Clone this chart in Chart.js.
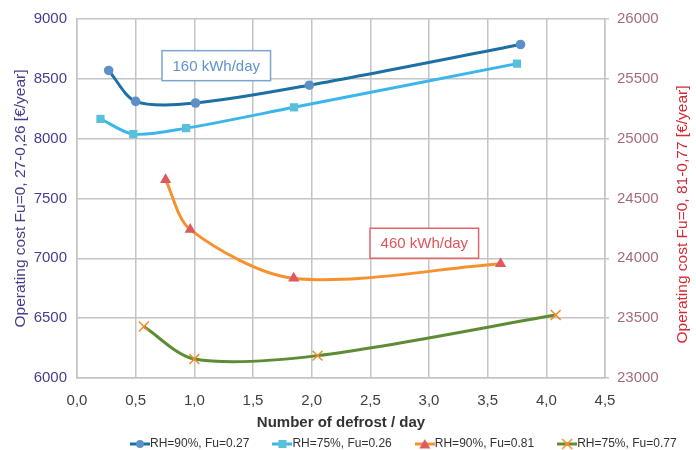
<!DOCTYPE html>
<html>
<head>
<meta charset="utf-8">
<script src="https://cdn.jsdelivr.net/npm/chart.js@4.4.1/dist/chart.umd.min.js"></script>
<style>
html, body { margin: 0; padding: 0; background: #fff; }
</style>
</head>
<body>
<canvas id="CostCanvas" width="696" height="450"></canvas>
<script>
// 160 kWh/day cases (left axis)
const rh90LowX = [0.27, 0.50, 1.01, 1.98, 3.78];
const rh90LowY = [8570, 8312, 8298, 8447, 8787];
const rh75LowX = [0.20, 0.48, 0.93, 1.85, 3.75];
const rh75LowY = [8165, 8038, 8088, 8262, 8627];

// 460 kWh/day cases (right axis)
const rh90HighX = [0.755, 0.965, 1.847, 3.61];
const rh90HighY = [24657, 24240, 23833, 23955];
const rh75HighX = [0.57, 1.00, 2.05, 4.08];
const rh75HighY = [23430, 23158, 23187, 23527];

const seriesNames = ["RH=90%, Fu=0.27", "RH=75%, Fu=0.26", "RH=90%, Fu=0.81", "RH=75%, Fu=0.77"];
const xTicks = [0, 0.5, 1, 1.5, 2, 2.5, 3, 3.5, 4, 4.5];
const leftTicks = [6000, 6500, 7000, 7500, 8000, 8500, 9000];
const rightTicks = [23000, 23500, 24000, 24500, 25000, 25500, 26000];

const labelNotes = [
    { text: "160 kWh/day", x: 1.187, y: 8610, axis: "yLeft", color: "#5f93cc", border: "#7ba3d4" },
    { text: "460 kWh/day", x: 2.96, y: 24126, axis: "yRight", color: "#e0545c", border: "#e0646c" }
];

const FONT = "'Liberation Sans', Arial, sans-serif";
const GRID = "#c4c4c4";

function toPoints(xs, ys) {
    return xs.map((x, i) => ({ x: x, y: ys[i] }));
}

// small line+marker picture for the legend
function legendIcon(lineColor, marker, markerColor) {
    const c = document.createElement("canvas");
    c.width = 20;
    c.height = 12;
    const g = c.getContext("2d");
    g.strokeStyle = lineColor;
    g.lineWidth = 3;
    g.beginPath();
    g.moveTo(0, 6);
    g.lineTo(20, 6);
    g.stroke();
    g.fillStyle = markerColor;
    g.strokeStyle = markerColor;
    g.beginPath();
    if (marker === "circle") {
        g.arc(10, 6, 4, 0, Math.PI * 2);
        g.fill();
    } else if (marker === "rect") {
        g.fillRect(6, 2, 8, 8);
    } else if (marker === "triangle") {
        g.moveTo(10, 1);
        g.lineTo(15.5, 10.5);
        g.lineTo(4.5, 10.5);
        g.closePath();
        g.fill();
    } else {
        g.lineWidth = 1.5;
        g.moveTo(5, 1); g.lineTo(15, 11);
        g.moveTo(15, 1); g.lineTo(5, 11);
        g.stroke();
        g.fillRect(8, 4, 4, 4);
    }
    return c;
}

const styles = [
    { line: "#1c70a4", marker: "circle", markerColor: "#5e90c8", radius: 4.8 },
    { line: "#3cb6ea", marker: "rect", markerColor: "#58c0d8", radius: 5.8 },
    { line: "#f5922f", marker: "triangle", markerColor: "#dc5a5e", radius: 6.5 },
    { line: "#5d8c35", marker: "crossRot", markerColor: "#f28c28", radius: 7 }
];

function makeDataset(i, points, axis) {
    const s = styles[i];
    return {
        label: seriesNames[i],
        data: points,
        yAxisID: axis,
        borderColor: s.line,
        backgroundColor: s.markerColor,
        borderWidth: 3,
        tension: 0.3,
        pointStyle: s.marker,
        pointRadius: s.radius,
        pointBackgroundColor: s.markerColor,
        pointBorderColor: s.markerColor,
        pointBorderWidth: s.marker === "crossRot" ? 1.5 : 0,
        fill: false
    };
}

// annotation boxes, right axis title, legend placement
const extrasPlugin = {
    id: "extras",
    afterLayout(chart) {
        const lg = chart.legend;
        const dx = 107 - lg.left;
        lg.left += dx;
        lg.right += dx;
        lg.top = 409;
        lg.bottom = 450;
        lg.height = 41;
    },
    afterDraw(chart) {
        const ctx = chart.ctx;
        const xs = chart.scales.x;
        ctx.save();
        ctx.font = "15px " + FONT;
        ctx.textAlign = "center";
        ctx.textBaseline = "middle";
        labelNotes.forEach(n => {
            const px = xs.getPixelForValue(n.x);
            const py = chart.scales[n.axis].getPixelForValue(n.y);
            const w = ctx.measureText(n.text).width + 21;
            const h = 30;
            ctx.fillStyle = "#fff";
            ctx.fillRect(px - w / 2, py - h / 2, w, h);
            ctx.strokeStyle = n.border;
            ctx.lineWidth = 1.5;
            ctx.strokeRect(px - w / 2, py - h / 2, w, h);
            ctx.fillStyle = n.color;
            ctx.fillText(n.text, px, py + 1);
        });

        const ya = chart.scales.yRight;
        ctx.translate(683, (ya.top + ya.bottom) / 2 + 16);
        ctx.rotate(-Math.PI / 2);
        ctx.font = "15.5px " + FONT;
        ctx.fillStyle = "#d42a35";
        ctx.fillText("Operating cost Fu=0, 81-0,77 [€/year]", 0, 0);
        ctx.restore();
    }
};

const ctx = document.getElementById("CostCanvas").getContext("2d");

const costChart = new Chart(ctx, {
    type: "line",
    data: {
        datasets: [
            makeDataset(0, toPoints(rh90LowX, rh90LowY), "yLeft"),
            makeDataset(1, toPoints(rh75LowX, rh75LowY), "yLeft"),
            makeDataset(2, toPoints(rh90HighX, rh90HighY), "yRight"),
            makeDataset(3, toPoints(rh75HighX, rh75HighY), "yRight")
        ]
    },
    options: {
        animation: false,
        responsive: false,
        events: [],
        layout: { padding: { top: 16, left: 0, right: 0, bottom: 0 } },
        plugins: {
            tooltip: { enabled: false },
            legend: {
                position: "bottom",
                align: "start",
                maxHeight: 18,
                labels: {
                    usePointStyle: true,
                    pointStyleWidth: 8,
                    padding: 29,
                    color: "#333",
                    font: { family: FONT, size: 12 },
                    generateLabels(chart) {
                        return chart.data.datasets.map((d, i) => ({
                            text: d.label,
                            datasetIndex: i,
                            pointStyle: legendIcon(styles[i].line, styles[i].marker, styles[i].markerColor),
                            fillStyle: styles[i].markerColor,
                            strokeStyle: styles[i].line,
                            lineWidth: 0,
                            fontColor: "#333",
                            hidden: false
                        }));
                    }
                }
            }
        },
        scales: {
            x: {
                type: "linear",
                min: xTicks[0],
                max: xTicks[xTicks.length - 1],
                afterFit(scale) { scale.height = 54; },
                afterBuildTicks(scale) { scale.ticks = xTicks.map(v => ({ value: v })); },
                ticks: {
                    color: "#404040",
                    font: { family: FONT, size: 15 },
                    padding: 14,
                    callback: v => v.toFixed(1).replace(".", ",")
                },
                grid: { color: GRID, lineWidth: 1.5, drawTicks: false },
                border: { color: GRID, width: 1.5 },
                title: {
                    display: true,
                    text: "Number of defrost / day",
                    color: "#333",
                    font: { family: FONT, size: 15, weight: "bold" },
                    padding: { top: 0, bottom: 0 }
                }
            },
            yLeft: {
                type: "linear",
                position: "left",
                min: leftTicks[0],
                max: leftTicks[leftTicks.length - 1],
                afterFit(scale) { scale.width = 77; },
                afterBuildTicks(scale) { scale.ticks = leftTicks.map(v => ({ value: v })); },
                ticks: {
                    color: "#4b3b8c",
                    font: { family: FONT, size: 15 },
                    padding: 10,
                    callback: v => String(v)
                },
                grid: { color: GRID, lineWidth: 1.5, drawTicks: false },
                border: { color: GRID, width: 1.5 },
                title: {
                    display: true,
                    text: "Operating cost Fu=0, 27-0,26 [€/year]",
                    color: "#4b3b8c",
                    font: { family: FONT, size: 15.5 },
                    padding: { top: 11, bottom: 0 }
                }
            },
            yRight: {
                type: "linear",
                position: "right",
                min: rightTicks[0],
                max: rightTicks[rightTicks.length - 1],
                afterFit(scale) { scale.width = 91; },
                afterBuildTicks(scale) { scale.ticks = rightTicks.map(v => ({ value: v })); },
                ticks: {
                    color: "#a46b80",
                    font: { family: FONT, size: 15 },
                    padding: 8,
                    callback: v => String(v)
                },
                grid: { color: GRID, lineWidth: 1.5, drawOnChartArea: false, drawTicks: true, tickLength: 4 },
                border: { color: GRID, width: 1.5 }
            }
        }
    },
    plugins: [extrasPlugin]
});
</script>
</body>
</html>
